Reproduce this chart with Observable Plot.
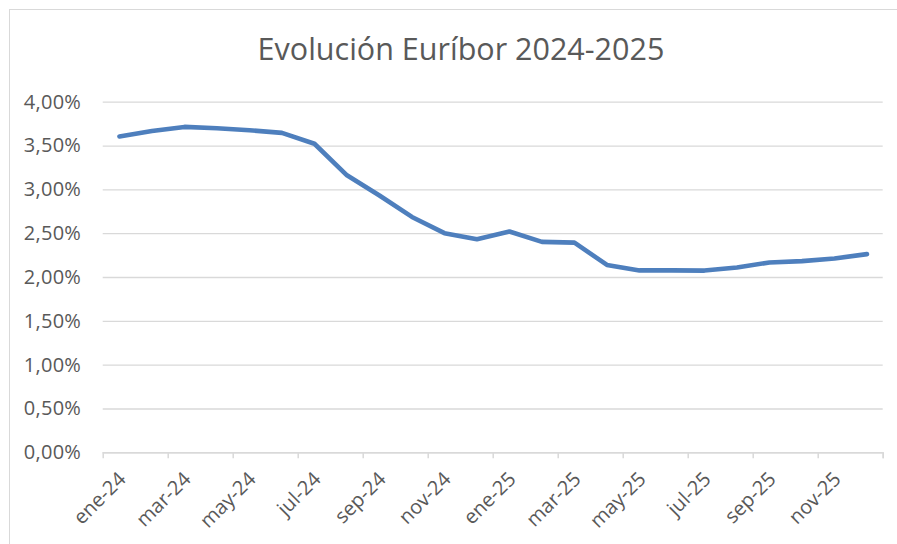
<!DOCTYPE html>
<html>
<head>
<meta charset="utf-8">
<script src="https://cdn.jsdelivr.net/npm/d3@7"></script>
<script src="https://cdn.jsdelivr.net/npm/@observablehq/plot@0.6"></script>
<style>
  html, body { margin: 0; padding: 0; background: #fff; overflow: hidden; }
  #wrap { position: relative; width: 897px; height: 544px; }
  #frame { position: absolute; left: 9px; top: 9px; width: 900px; height: 540px;
           border-left: 1.5px solid #d9d9d9; border-top: 1.5px solid #d9d9d9; }
  #title { position: absolute; left: 0; width: 922px; top: 33px; text-align: center;
           font-family: "Open Sans", sans-serif; font-size: 30.5px; line-height: 30px; color: #595959; }
  #chart { position: absolute; left: 0; top: 0; }
  #chart g[aria-label="x-axis tick"] path { stroke: #d9d9d9; stroke-width: 1.5px; }
  #chart g[aria-label="y-axis tick label"] text { font-size: 20px; letter-spacing: 0.3px; }
</style>
</head>
<body>
<div id="wrap">
  <div id="frame"></div>
  <div id="chart"></div>
  <div id="title">Evolución Euríbor 2024-2025</div>
</div>
<script>
const months = ["ene-24","feb-24","mar-24","abr-24","may-24","jun-24","jul-24","ago-24","sep-24","oct-24","nov-24","dic-24",
                "ene-25","feb-25","mar-25","abr-25","may-25","jun-25","jul-25","ago-25","sep-25","oct-25","nov-25","dic-25"];
const euribor = [3.609,3.671,3.718,3.703,3.680,3.650,3.526,3.166,2.936,2.691,2.506,2.436,
                 2.525,2.407,2.398,2.143,2.081,2.081,2.079,2.114,2.172,2.187,2.217,2.267];
const yTicks = [0,0.5,1,1.5,2,2.5,3,3.5,4];
const labelMonths = ["ene-24","mar-24","may-24","jul-24","sep-24","nov-24","ene-25","mar-25","may-25","jul-25","sep-25","nov-25"];

const data = months.map((m, i) => ({month: m, idx: i, value: euribor[i]}));
const labels = labelMonths.map(m => ({month: m, idx: months.indexOf(m)}));
// category boundaries every two months (Excel tick marks between categories)
const boundaries = d3.range(-0.5, months.length, 2).concat([months.length - 0.5]);
const fmt = d => d.toFixed(2).replace(".", ",") + "%";

const chart = Plot.plot({
  width: 897,
  height: 544,
  marginLeft: 102.7,
  marginRight: 14.3,
  marginTop: 101.7,
  marginBottom: 91.7,
  style: {fontFamily: "'Open Sans', sans-serif", fontSize: "20px", color: "#595959", background: "transparent", overflow: "visible"},
  x: {type: "linear", domain: [-0.5, months.length - 0.5], ticks: boundaries, tickSize: 6, tickFormat: () => "", label: null},
  y: {domain: [0, 4], ticks: yTicks, tickFormat: fmt, tickSize: 0, tickPadding: 22, label: null},
  marks: [
    Plot.ruleY(yTicks, {stroke: "#d9d9d9", strokeWidth: 1.3}),
    Plot.ruleY([0], {stroke: "#d9d9d9", strokeWidth: 1.5}),
    Plot.text(labels, {x: "idx", y: () => 0, text: "month", rotate: -45, textAnchor: "end", dx: 3, dy: 23,
                       fill: "#595959", fontSize: 20}),
    Plot.line(data, {x: "idx", y: "value", stroke: "#4e7fbd", strokeWidth: 4.6,
                     strokeLinecap: "round", strokeLinejoin: "round"})
  ]
});
document.getElementById("chart").appendChild(chart);
</script>
</body>
</html>
